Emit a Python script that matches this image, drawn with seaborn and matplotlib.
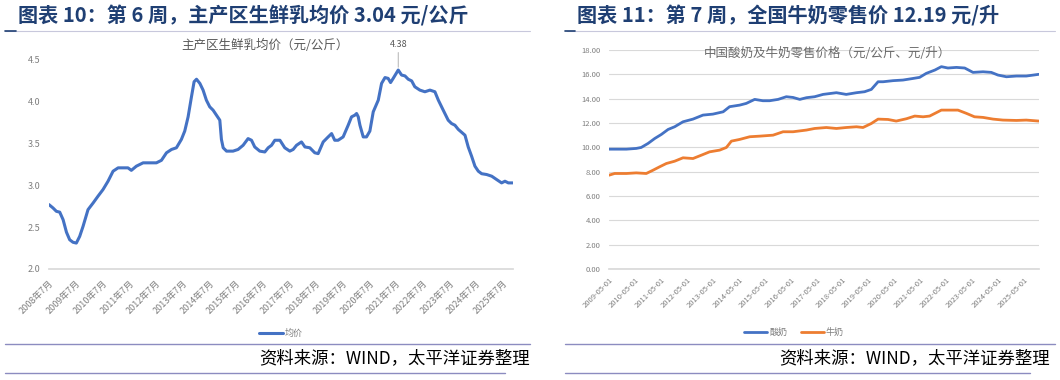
import matplotlib
matplotlib.use("Agg")
import matplotlib.pyplot as plt
from matplotlib.lines import Line2D
import seaborn as sns
import pandas as pd

# -------------------- DATA --------------------
# 主产区生鲜乳均价 (元/公斤)
milk_dates = [
    "2008-07-01", "2008-08-25", "2008-10-10", "2008-11-25", "2009-01-10", "2009-02-25",
    "2009-04-10", "2009-05-25", "2009-07-10", "2009-08-25", "2009-10-10", "2009-12-17",
    "2010-02-25", "2010-05-02", "2010-07-10", "2010-09-17", "2010-11-25", "2011-02-02",
    "2011-04-10", "2011-06-17", "2011-08-02", "2011-10-10", "2012-01-10", "2012-03-17",
    "2012-07-10", "2012-09-17", "2012-11-25", "2013-02-02", "2013-04-10", "2013-06-17",
    "2013-08-02", "2013-09-17", "2013-11-02", "2013-12-08", "2014-01-10", "2014-02-25",
    "2014-04-10", "2014-05-25", "2014-07-10", "2014-08-25", "2014-10-10", "2014-11-25",
    "2014-12-17", "2015-01-10", "2015-02-25", "2015-05-25", "2015-08-02", "2015-10-10",
    "2015-12-17", "2016-02-02", "2016-03-17", "2016-05-25", "2016-08-02", "2016-09-17",
    "2016-11-02", "2016-12-17", "2017-02-25", "2017-05-02", "2017-07-10", "2017-08-25",
    "2017-10-10", "2017-12-17", "2018-02-02", "2018-04-10", "2018-06-17", "2018-08-02",
    "2018-10-10", "2018-12-17", "2019-02-02", "2019-03-17", "2019-05-02", "2019-07-10",
    "2019-09-17", "2019-11-02", "2019-12-17", "2020-01-10", "2020-02-02", "2020-02-25",
    "2020-04-10", "2020-05-25", "2020-07-10", "2020-08-25", "2020-11-02", "2020-12-17",
    "2021-02-02", "2021-03-17", "2021-04-19", "2021-05-25", "2021-08-02", "2021-09-17",
    "2021-11-02", "2021-12-17", "2022-02-02", "2022-03-17", "2022-05-25", "2022-08-02",
    "2022-10-10", "2022-12-17", "2023-02-02", "2023-04-10", "2023-06-17", "2023-08-02",
    "2023-09-17", "2023-11-02", "2024-02-02", "2024-03-17", "2024-05-02", "2024-06-17",
    "2024-08-02", "2024-09-17", "2024-11-25", "2025-02-02", "2025-04-10", "2025-06-17",
    "2025-08-02", "2025-09-17", "2025-11-15",
]
milk_price = [
    2.77, 2.73, 2.69, 2.68, 2.59, 2.44,
    2.35, 2.32, 2.31, 2.39, 2.51, 2.71,
    2.79, 2.87, 2.95, 3.05, 3.17, 3.21,
    3.21, 3.21, 3.18, 3.23, 3.27, 3.27,
    3.27, 3.30, 3.39, 3.43, 3.45, 3.55,
    3.65, 3.82, 4.06, 4.24, 4.27, 4.22,
    4.14, 4.02, 3.94, 3.90, 3.84, 3.78,
    3.55, 3.45, 3.41, 3.41, 3.43, 3.48,
    3.56, 3.54, 3.46, 3.41, 3.40, 3.45,
    3.48, 3.54, 3.54, 3.45, 3.41, 3.43,
    3.48, 3.52, 3.46, 3.45, 3.39, 3.38,
    3.52, 3.58, 3.62, 3.54, 3.54, 3.58,
    3.72, 3.82, 3.84, 3.86, 3.82, 3.72,
    3.58, 3.58, 3.65, 3.88, 4.02, 4.22,
    4.29, 4.28, 4.23, 4.28, 4.38, 4.32,
    4.31, 4.27, 4.25, 4.18, 4.14, 4.12,
    4.14, 4.12, 4.02, 3.90, 3.78, 3.74,
    3.72, 3.67, 3.60, 3.46, 3.35, 3.23,
    3.17, 3.14, 3.13, 3.11, 3.07, 3.03,
    3.05, 3.03, 3.03,
]
milk_ticks = list(range(2008, 2026))

# 中国酸奶及牛奶零售价格
yogurt_dates = [
    "2009-05-01", "2010-01-01", "2010-05-19", "2010-07-28", "2010-11-01", "2011-02-04",
    "2011-05-07", "2011-08-10", "2011-11-10", "2012-03-07", "2012-07-25", "2012-12-13",
    "2013-05-01", "2013-09-22", "2013-12-22", "2014-05-13", "2014-08-13", "2014-12-10",
    "2015-04-04", "2015-07-07", "2015-11-04", "2016-02-28", "2016-06-01", "2016-09-04",
    "2016-12-07", "2017-04-01", "2017-07-28", "2018-02-01", "2018-06-19", "2018-11-10",
    "2019-03-04", "2019-06-07", "2019-09-10", "2019-11-19", "2020-04-07", "2020-08-25",
    "2020-12-22", "2021-04-16", "2021-07-19", "2021-11-16", "2022-02-16", "2022-05-19",
    "2022-09-16", "2023-01-10", "2023-05-07", "2023-09-25", "2024-01-19", "2024-04-22",
    "2024-08-19", "2025-01-07", "2025-05-25", "2025-11-16",
]
yogurt_price = [
    9.85, 9.85, 9.91, 9.99, 10.32, 10.73,
    11.06, 11.47, 11.69, 12.10, 12.32, 12.65,
    12.73, 12.92, 13.34, 13.47, 13.61, 13.94,
    13.83, 13.83, 13.94, 14.16, 14.10, 13.94,
    14.08, 14.16, 14.35, 14.49, 14.35, 14.49,
    14.57, 14.76, 15.39, 15.39, 15.48, 15.53,
    15.64, 15.75, 16.08, 16.35, 16.63, 16.52,
    16.57, 16.52, 16.16, 16.21, 16.16, 15.94,
    15.80, 15.86, 15.86, 16.00,
]
retail_milk_dates = [
    "2009-05-01", "2009-07-19", "2010-01-01", "2010-05-19", "2010-10-07", "2011-01-10",
    "2011-04-13", "2011-07-16", "2011-11-10", "2012-03-07", "2012-07-25", "2012-11-22",
    "2013-03-16", "2013-08-04", "2013-11-07", "2014-01-16", "2014-05-13", "2014-10-01",
    "2015-02-19", "2015-08-25", "2016-01-13", "2016-06-01", "2016-12-07", "2017-04-01",
    "2017-09-13", "2018-02-01", "2018-06-19", "2018-11-10", "2019-02-10", "2019-06-07",
    "2019-09-10", "2020-01-28", "2020-05-22", "2020-10-13", "2021-02-07", "2021-06-04",
    "2021-09-04", "2022-02-16", "2022-07-28", "2022-10-07", "2023-02-04", "2023-05-28",
    "2023-09-25", "2024-02-13", "2024-07-01", "2025-01-07", "2025-05-25", "2025-11-16",
]
retail_milk_price = [
    7.71, 7.85, 7.85, 7.90, 7.85, 8.12,
    8.40, 8.67, 8.86, 9.14, 9.08, 9.36,
    9.63, 9.77, 9.99, 10.51, 10.65, 10.87,
    10.92, 11.00, 11.28, 11.28, 11.42, 11.55,
    11.63, 11.55, 11.63, 11.69, 11.63, 11.96,
    12.32, 12.29, 12.16, 12.35, 12.57, 12.51,
    12.57, 13.06, 13.06, 13.06, 12.79, 12.51,
    12.46, 12.32, 12.24, 12.21, 12.24, 12.16,
]
retail_ticks = list(range(2009, 2026))

# -------------------- STYLE --------------------
sns.set_theme(style="white")
plt.rcParams['font.family'] = ['Noto Sans CJK SC', 'DejaVu Sans']
plt.rcParams['axes.unicode_minus'] = False

BLUE = "#4472C4"
ORANGE = "#ED7D31"
NAVY = "#1F3F73"
TICK_GRAY = "#7F7F7F"
RULE = "#8C8CC0"

fig = plt.figure(figsize=(10.6, 3.8), dpi=100)
W, H = 1060, 380


def px_axes(x0, y0, x1, y1):
    return fig.add_axes([x0 / W, 1 - y1 / H, (x1 - x0) / W, (y1 - y0) / H])


def style_axis(ax):
    for s in ["top", "right", "left"]:
        ax.spines[s].set_visible(False)
    ax.spines["bottom"].set_color("#D9D9D9")
    ax.tick_params(axis="y", length=0, labelsize=6.5, labelcolor=TICK_GRAY, pad=6)
    ax.tick_params(axis="x", length=3, color="#D9D9D9", direction="out",
                   labelsize=6.5, labelcolor=TICK_GRAY, pad=4)
    ax.set_xlabel("")
    ax.set_ylabel("")


# -------------------- LEFT: 生鲜乳均价 --------------------
left = pd.DataFrame({"date": pd.to_datetime(milk_dates), "均价": milk_price})
ax1 = px_axes(49, 60, 513, 269)
sns.lineplot(data=left, x="date", y="均价", ax=ax1, color=BLUE, linewidth=2.2, label="均价")
ax1.set_ylim(2.0, 4.5)
ax1.set_yticks([2.0, 2.5, 3.0, 3.5, 4.0, 4.5])
ax1.set_yticklabels([f"{v:.1f}" for v in [2.0, 2.5, 3.0, 3.5, 4.0, 4.5]])
ax1.set_xlim(pd.Timestamp("2008-07-01"), pd.Timestamp("2025-11-20"))
ax1.set_xticks([pd.Timestamp(f"{y}-07-01") for y in milk_ticks])
ax1.set_xticklabels([f"{y}年7月" for y in milk_ticks], rotation=45, ha="right",
                    rotation_mode="anchor")
style_axis(ax1)
peak_i = milk_price.index(max(milk_price))
ax1.annotate(f"{max(milk_price):.2f}", xy=(pd.Timestamp(milk_dates[peak_i]), max(milk_price)),
             xytext=(0, 15), textcoords="offset points", ha="center", va="bottom",
             fontsize=6.5, color="#595959",
             arrowprops=dict(arrowstyle="-", color="#A6A6A6", lw=0.6, shrinkA=0, shrinkB=2))
ax1.legend(loc="center", bbox_to_anchor=(0.5, -0.31), frameon=False, fontsize=6.5,
           handlelength=2.6, labelcolor=TICK_GRAY, handletextpad=0.2)
fig.text(265 / W, 1 - 45 / H, "主产区生鲜乳均价（元/公斤）", ha="center", va="center",
         fontsize=9, color="#595959")

# -------------------- RIGHT: 酸奶及牛奶零售价 --------------------
ax2 = px_axes(609, 50, 1039, 269)
yog = pd.DataFrame({"date": pd.to_datetime(yogurt_dates), "price": yogurt_price})
rmk = pd.DataFrame({"date": pd.to_datetime(retail_milk_dates), "price": retail_milk_price})
sns.lineplot(data=yog, x="date", y="price", ax=ax2, color=BLUE, linewidth=2.0)
sns.lineplot(data=rmk, x="date", y="price", ax=ax2, color=ORANGE, linewidth=2.0)
ax2.set_ylim(0, 18)
ax2.set_yticks(range(0, 19, 2))
ax2.set_yticklabels([f"{v:.2f}" for v in range(0, 19, 2)])
ax2.grid(axis="y", color="#D9D9D9", linewidth=0.8)
ax2.set_axisbelow(True)
ax2.set_xlim(pd.Timestamp("2009-05-01"), pd.Timestamp("2025-11-20"))
ax2.set_xticks([pd.Timestamp(f"{y}-05-01") for y in retail_ticks])
ax2.set_xticklabels([f"{y}-05-01" for y in retail_ticks], rotation=45, ha="right",
                    rotation_mode="anchor")
style_axis(ax2)
ax2.tick_params(axis="y", labelsize=5.5)
ax2.tick_params(axis="x", labelsize=5.5, pad=2)
handles = [Line2D([], [], color=BLUE, lw=2.0), Line2D([], [], color=ORANGE, lw=2.0)]
ax2.legend(handles, ["酸奶", "牛奶"], loc="center", bbox_to_anchor=(0.43, -0.29),
           ncol=2, frameon=False, fontsize=6.5, handlelength=2.6, labelcolor=TICK_GRAY,
           handletextpad=0.2, columnspacing=1.5)
fig.text(827 / W, 1 - 53 / H, "中国酸奶及牛奶零售价格（元/公斤、元/升）", ha="center",
         va="center", fontsize=9, color="#6A6A6A")

# -------------------- HEADERS / FOOTERS --------------------
fig.text(18 / W, 1 - 16 / H, "图表 10：第 6 周，主产区生鲜乳均价 3.04 元/公斤",
         ha="left", va="center", fontsize=14.5, fontweight="bold", color=NAVY)
fig.text(577 / W, 1 - 16 / H, "图表 11：第 7 周，全国牛奶零售价 12.19 元/升",
         ha="left", va="center", fontsize=14.5, fontweight="bold", color=NAVY)

for (x0, x1) in [(5, 530), (567, 1055)]:
    fig.add_artist(Line2D([x0 / W, x1 / W], [1 - 31 / H] * 2, color="#C8C8DC", lw=0.8))
fig.add_artist(Line2D([5 / W, 16 / W], [1 - 31 / H] * 2, color=NAVY, lw=1.2))
fig.add_artist(Line2D([565 / W, 575 / W], [1 - 31 / H] * 2, color=NAVY, lw=1.2))

for (x0, x1, xs) in [(5, 530, 530), (565, 1055, 1050)]:
    fig.add_artist(Line2D([x0 / W, x1 / W], [1 - 344 / H] * 2, color=RULE, lw=1.0))
    fig.add_artist(Line2D([x0 / W, (x1 - 25) / W], [1 - 373 / H] * 2, color=RULE, lw=1.0))
    fig.text(xs / W, 1 - 358 / H, "资料来源：WIND，太平洋证券整理", ha="right", va="center",
             fontsize=12.5, color="#000000", style="italic")

fig.savefig("out.png", dpi=100)
